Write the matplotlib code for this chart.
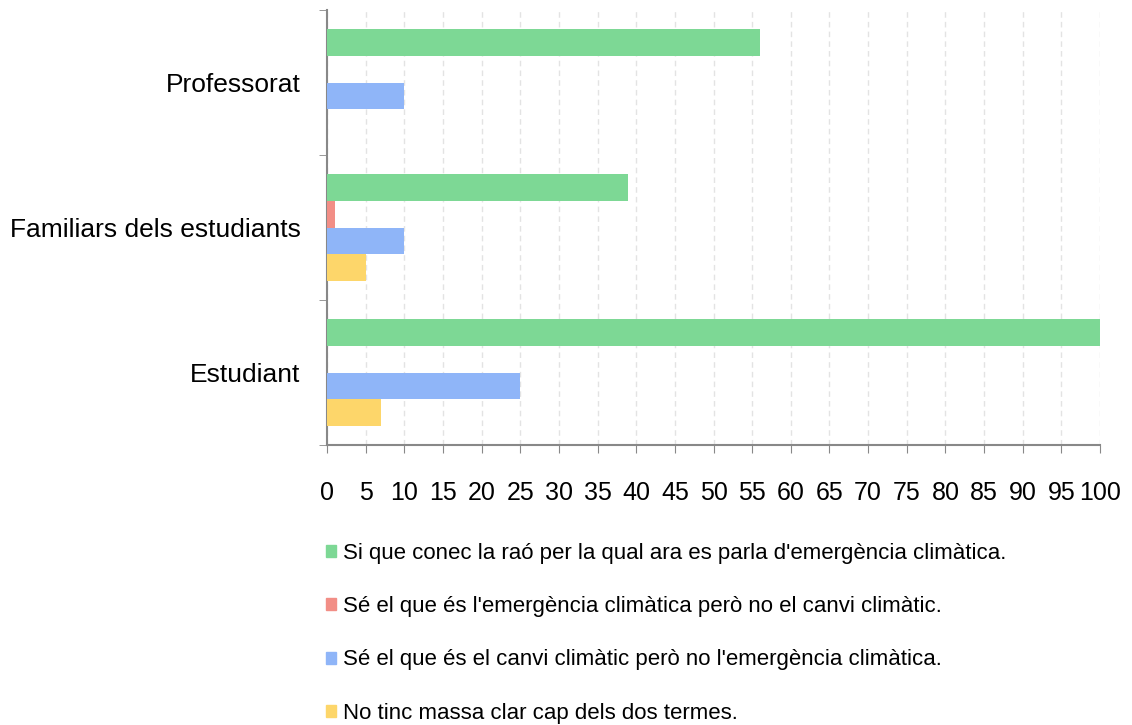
import numpy as np
import matplotlib
matplotlib.use("Agg")
import matplotlib.pyplot as plt
import matplotlib.patches as patches

plt.rcParams['font.family'] = ['Liberation Sans', 'DejaVu Sans']

# data, bottom to top as drawn
groups = ["Estudiant", "Familiars dels estudiants", "Professorat"]
series = [
    "Si que conec la raó per la qual ara es parla d'emergència climàtica.",
    "Sé el que és l'emergència climàtica però no el canvi climàtic.",
    "Sé el que és el canvi climàtic però no l'emergència climàtica.",
    "No tinc massa clar cap dels dos termes.",
]
si_conec = [100, 39, 56]
emergencia = [0, 1, 0]
canvi = [25, 10, 10]
no_clar = [7, 5, 0]
colors = ["#7dd895", "#f28e86", "#8fb5f8", "#fdd66a"]

values = [si_conec, emergencia, canvi, no_clar]

fig = plt.figure(figsize=(11.32, 7.25), dpi=100)
ax = fig.add_axes([327 / 1132, 1 - 445 / 725, 773 / 1132, 435 / 725])

y = np.arange(len(groups))
h = 0.183
offsets = [1.5 * h, 0.5 * h, -0.5 * h, -1.5 * h]
for vals, off, c in zip(values, offsets, colors):
    ax.barh(y + off, vals, height=h, color=c, zorder=3)

ax.set_xlim(0, 100)
ax.set_ylim(-0.5, 2.5)
ax.set_xticks(np.arange(0, 101, 5))
ax.tick_params(axis='x', length=6, color='#888888', pad=20, labelsize=18)
ax.grid(axis='x', color='#e3e3e3', linestyle=(0, (4, 3)), linewidth=1, zorder=0)

ax.set_yticks(y)
ax.set_yticklabels(groups, fontsize=19)
ax.tick_params(axis='y', length=0, pad=19)
ax.set_yticks(np.arange(-0.5, 2.6, 1), minor=True)
ax.tick_params(axis='y', which='minor', length=6, color='#888888', direction='out')

for s in ['top', 'right']:
    ax.spines[s].set_visible(False)
for s in ['left', 'bottom']:
    ax.spines[s].set_color('#888888')
    ax.spines[s].set_linewidth(1.5)

handles = [patches.Patch(color=c) for c in colors]
fig.legend(handles, series, loc='upper left', bbox_to_anchor=(326 / 1132, 1 - 543 / 725),
           frameon=False, fontsize=16, handlelength=0.45, handleheight=0.45,
           handletextpad=0.3, labelspacing=1.45, borderpad=0, borderaxespad=0)

fig.savefig("out.png", dpi=100)
